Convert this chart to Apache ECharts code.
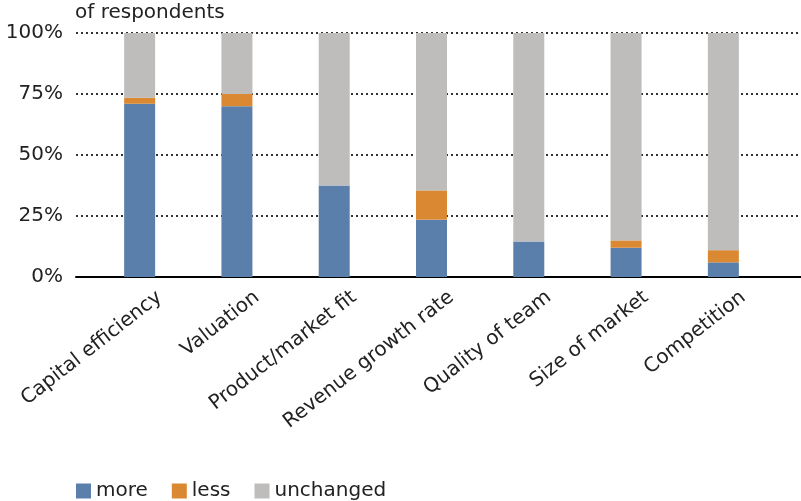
<!DOCTYPE html>
<html>
<head>
<meta charset="utf-8">
<script src="https://cdn.jsdelivr.net/npm/echarts@6/dist/echarts.min.js"></script>
<style>
  html, body { margin: 0; padding: 0; background: #fff; }
  #chart { width: 801px; height: 501px; }
</style>
</head>
<body>
<div id="chart"></div>
<script>
const categories = ['Capital efficiency', 'Valuation', 'Product/market fit', 'Revenue growth rate', 'Quality of team', 'Size of market', 'Competition']
const more = [71, 70, 37.5, 23.5, 14.5, 12, 6]
const less = [2.5, 5, 0, 12, 0, 3, 5]
const unchanged = [26.5, 25, 62.5, 64.5, 85.5, 85, 89]
const yTicks = [0, 25, 50, 75, 100]

const font = '"DejaVu Sans", sans-serif'
const chart = echarts.init(document.getElementById('chart'))

const option = {
  animation: false,
  title: {
    text: 'of respondents',
    left: 70,
    top: -2,
    textStyle: { fontFamily: font, fontSize: 20, fontWeight: 'normal', color: '#222' }
  },
  legend: {
    left: 71,
    bottom: -5,
    itemWidth: 15,
    itemHeight: 15,
    itemGap: 24,
    icon: 'rect',
    textStyle: { fontFamily: font, fontSize: 20, color: '#222' },
    data: ['more', 'less', 'unchanged']
  },
  grid: [
    { left: 76, right: 0, top: 33, bottom: 224 },
    { left: 91, right: 29, top: 33, bottom: 224 },
    // same band width, shifted right: only carries the slanted category labels
    { left: 111, right: 9, top: 33, bottom: 224 }
  ],
  xAxis: [
    {
      gridIndex: 0, type: 'category', data: [''],
      axisLine: { lineStyle: { color: '#000', width: 2 } },
      axisTick: { show: false }, axisLabel: { show: false }
    },
    {
      gridIndex: 1, type: 'category', data: categories,
      axisLine: { show: false }, axisTick: { show: false }, axisLabel: { show: false }
    },
    {
      gridIndex: 2, type: 'category', data: categories,
      axisLine: { show: false }, axisTick: { show: false },
      axisLabel: {
        rotate: 38, interval: 0, margin: 18,
        fontFamily: font, fontSize: 20, color: '#222'
      }
    }
  ],
  yAxis: [
    {
      gridIndex: 0, type: 'value', min: 0, max: 100, interval: 25,
      axisLine: { show: false }, axisTick: { show: false },
      axisLabel: {
        margin: 13, fontFamily: font, fontSize: 20, color: '#222',
        formatter: v => yTicks.includes(v) ? v + '%' : ''
      },
      splitLine: { lineStyle: { color: '#333', width: 2, type: [2, 3] } }
    },
    { gridIndex: 1, type: 'value', min: 0, max: 100, show: false, splitLine: { show: false } },
    { gridIndex: 2, type: 'value', min: 0, max: 100, show: false, splitLine: { show: false } }
  ],
  series: [
    { name: 'more', type: 'bar', stack: 'all', xAxisIndex: 1, yAxisIndex: 1, barWidth: 31, data: more, itemStyle: { color: '#5B7FAB' } },
    { name: 'less', type: 'bar', stack: 'all', xAxisIndex: 1, yAxisIndex: 1, barWidth: 31, data: less, itemStyle: { color: '#DB8832' } },
    { name: 'unchanged', type: 'bar', stack: 'all', xAxisIndex: 1, yAxisIndex: 1, barWidth: 31, data: unchanged, itemStyle: { color: '#BEBDBB' } }
  ]
}

chart.setOption(option)
</script>
</body>
</html>
